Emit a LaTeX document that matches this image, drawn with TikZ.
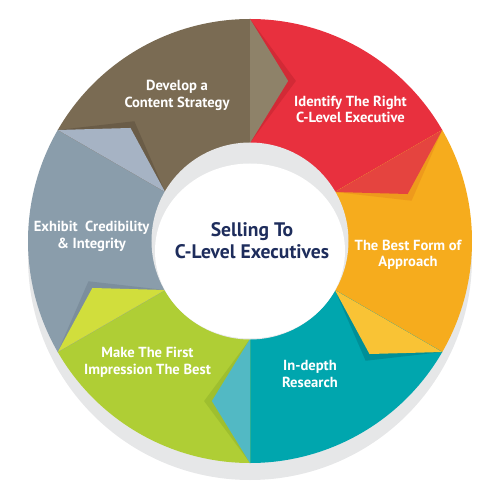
\documentclass[tikz,border=0pt]{standalone}
\usepackage{fontspec}
\setmainfont{PT Sans}
\definecolor{cBrown}{HTML}{7A6B53}\definecolor{cBrownL}{HTML}{8E8269}\definecolor{cBrownD}{HTML}{6A5C47}
\definecolor{cRed}{HTML}{E8303E}\definecolor{cRedL}{HTML}{E5443F}\definecolor{cRedD}{HTML}{D22A36}
\definecolor{cOrange}{HTML}{F6AC1D}\definecolor{cOrangeL}{HTML}{F9C335}\definecolor{cOrangeD}{HTML}{EE9A1C}
\definecolor{cTeal}{HTML}{00A6AE}\definecolor{cTealL}{HTML}{52B9C4}\definecolor{cTealD}{HTML}{008F97}
\definecolor{cGreen}{HTML}{AFCE35}\definecolor{cGreenL}{HTML}{D1DE3C}\definecolor{cGreenD}{HTML}{9EBF2F}
\definecolor{cGray}{HTML}{8A9DAB}\definecolor{cGrayL}{HTML}{A6B3C4}\definecolor{cGrayD}{HTML}{7C8E9D}
\definecolor{cRing}{HTML}{E6E7E8}
\definecolor{cNavy}{HTML}{1E2D5C}
\tikzset{
  lbl/.style={text=white,font=\bfseries\fontsize{14.6}{17}\selectfont,anchor=base,inner sep=0pt},
  ttl/.style={text=cNavy,font=\bfseries\fontsize{19.6}{25}\selectfont,anchor=base,inner sep=0pt}
}
\newcommand{\seg}[3]{\fill[#1] (0,0) -- (#2:222) arc[start angle=#2,end angle=#3,radius=222] -- cycle;}
\newcommand{\fold}[3]{%
  \fill[#3] (#1:222) -- (#1-16:166.5) -- (#1:98) -- cycle;
  \fill[#2] (#1:222) -- (#1-13.4:164.5) -- (#1:98) -- cycle;}
\begin{document}
\begin{tikzpicture}[x=1pt,y=1pt]
\useasboundingbox (-250,-259) rectangle (250,241);
\fill[cRing] (0,-17) circle[radius=222];
\seg{cBrown}{150}{90}
\seg{cRed}{90}{30}
\seg{cOrange}{30}{-30}
\seg{cTeal}{-30}{-90}
\seg{cGreen}{-90}{-150}
\seg{cGray}{-150}{-210}
\fold{90}{cBrownL}{cRedD}
\fold{30}{cRedL}{cOrangeD}
\fold{-30}{cOrangeL}{cTealD}
\fold{-90}{cTealL}{cGreenD}
\fold{-150}{cGreenL}{cGrayD}
\fold{150}{cGrayL}{cBrownD}
\fill[cRing] (0,0) circle[radius=98.5];
\fill[white] (0,-10) ellipse[x radius=95,y radius=87.5];
\node[ttl] (sel1) at (2,4) {Selling To};
\node[ttl] (sel2) at (2,-18) {C-Level Executives};
\node[lbl] (dev1) at (-73,150) {Develop a};
\node[lbl] (dev2) at (-73,133) {Content Strategy};
\node[lbl] (idf1) at (100.5,134) {Identify The Right};
\node[lbl] (idf2) at (100.5,118) {C-Level Executive};
\node[lbl] (bst1) at (158,-10) {The Best Form of};
\node[lbl] (bst2) at (158,-26) {Approach};
\node[lbl] (dep1) at (60,-129) {In-depth};
\node[lbl] (dep2) at (60,-146) {Research};
\node[lbl] (mak1) at (-102.5,-116) {Make The First};
\node[lbl] (mak2) at (-102.5,-133) {Impression The Best};
\node[lbl] (exh1) at (-158.5,9) {Exhibit\ \ Credibility};
\node[lbl] (exh2) at (-158.5,-8) {\& Integrity};
\end{tikzpicture}
\end{document}
